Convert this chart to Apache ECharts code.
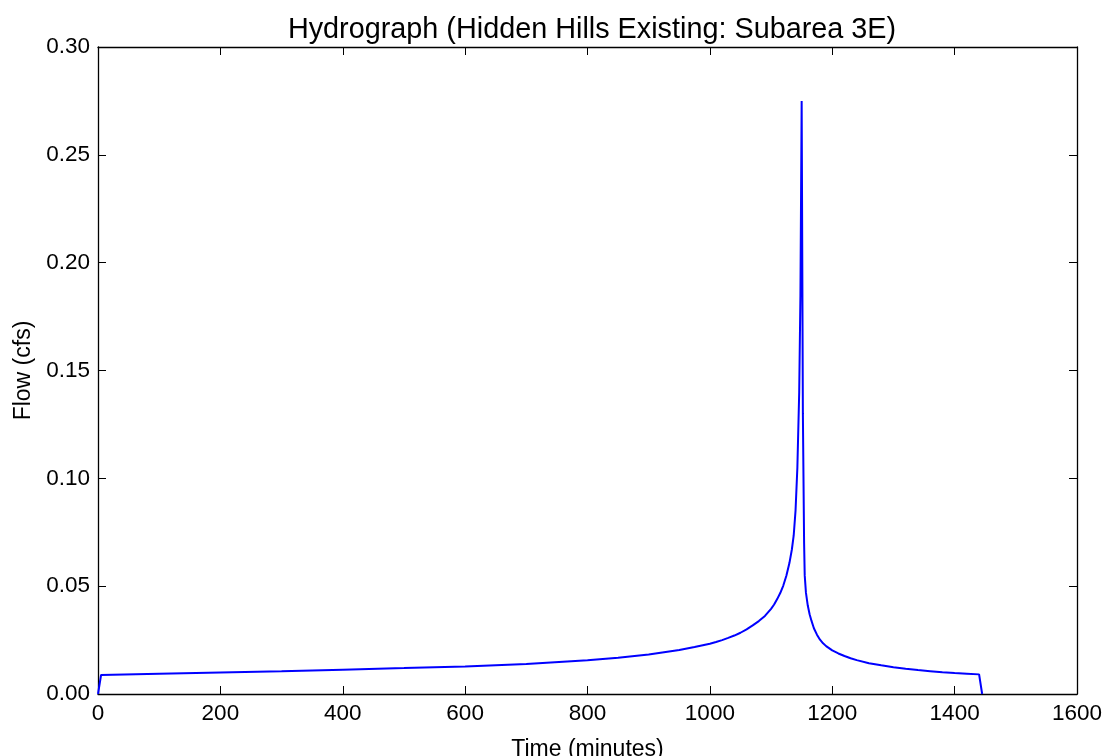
<!DOCTYPE html>
<html>
<head>
<meta charset="utf-8">
<script src="https://cdn.jsdelivr.net/npm/echarts@6/dist/echarts.min.js"></script>
<style>html,body{margin:0;padding:0;background:#fff;}#c{width:1106px;height:756px;}</style>
</head>
<body>
<div id="c"></div>
<script>
const chartTitle = "Hydrograph (Hidden Hills Existing: Subarea 3E)";
const xLabel = "Time (minutes)";
const yLabel = "Flow (cfs)";
const timeMinutes = [0, 5, 100, 200, 300, 400, 500, 600, 700, 800, 850, 900, 950, 975, 1000, 1010, 1020, 1030, 1040, 1050, 1060, 1070, 1080, 1090, 1100, 1105, 1110, 1115, 1120, 1125, 1130, 1134, 1137, 1140, 1143, 1146, 1148, 1150, 1152, 1154, 1155, 1157, 1160, 1163, 1166, 1170, 1175, 1180, 1185, 1190, 1200, 1210, 1220, 1230, 1240, 1260, 1280, 1300, 1320, 1340, 1360, 1380, 1400, 1420, 1440, 1445];
const flowCfs = [0, 0.0088, 0.0094, 0.0100, 0.0106, 0.0113, 0.0120, 0.0128, 0.0139, 0.0157, 0.0168, 0.0183, 0.0204, 0.0218, 0.0233, 0.0241, 0.0250, 0.0260, 0.0271, 0.0284, 0.0300, 0.0318, 0.0338, 0.0362, 0.0395, 0.0415, 0.0440, 0.0468, 0.0503, 0.0548, 0.0607, 0.0670, 0.0735, 0.0850, 0.1050, 0.1400, 0.1850, 0.2750, 0.1300, 0.0700, 0.0550, 0.0470, 0.0410, 0.0370, 0.0340, 0.0305, 0.0275, 0.0252, 0.0235, 0.0222, 0.0202, 0.0188, 0.0176, 0.0166, 0.0157, 0.0143, 0.0133, 0.0124, 0.0117, 0.0111, 0.0106, 0.0101, 0.0097, 0.0094, 0.0091, 0];
const xTicks = [0, 200, 400, 600, 800, 1000, 1200, 1400, 1600];
const yTicks = [0, 0.05, 0.10, 0.15, 0.20, 0.25, 0.30];

const FONT = "Liberation Sans, Arial, sans-serif";
const axisLineStyle = { color: "#000", width: 1.3 };
const tickStyle = { show: true, inside: true, length: 8, lineStyle: { color: "#000", width: 1 } };
const chart = echarts.init(document.getElementById("c"), null, { renderer: "canvas" });
const points = timeMinutes.map((t, i) => [t, flowCfs[i]]);

const xBase = { type: "value", min: xTicks[0], max: xTicks[xTicks.length - 1], interval: xTicks[1] - xTicks[0], splitLine: { show: false } };
const yBase = { type: "value", min: yTicks[0], max: yTicks[yTicks.length - 1], interval: 0.05, splitLine: { show: false } };

chart.setOption({
  backgroundColor: "#fff",
  animation: false,
  title: {
    text: chartTitle, left: 587, top: 11, textAlign: "center",
    textStyle: { fontFamily: FONT, fontSize: 28.8, fontWeight: "normal", color: "#000" }
  },
  grid: { left: 98, right: 29, top: 47, bottom: 62, containLabel: false, outerBoundsMode: "none" },
  xAxis: [
    Object.assign({}, xBase, {
      position: "bottom", name: xLabel, nameLocation: "middle", nameGap: 44,
      nameTextStyle: { fontFamily: FONT, fontSize: 23, color: "#000" },
      axisLine: { show: true, onZero: false, lineStyle: axisLineStyle },
      axisTick: tickStyle,
      axisLabel: { fontFamily: FONT, fontSize: 22.5, color: "#000", margin: 8, formatter: v => String(v) }
    }),
    Object.assign({}, xBase, {
      position: "top",
      axisLine: { show: true, onZero: false, lineStyle: axisLineStyle },
      axisTick: tickStyle,
      axisLabel: { show: false }
    })
  ],
  yAxis: [
    Object.assign({}, yBase, {
      position: "left", name: yLabel, nameLocation: "middle", nameGap: 63, nameRotate: 90,
      nameTextStyle: { fontFamily: FONT, fontSize: 23, color: "#000" },
      axisLine: { show: true, onZero: false, lineStyle: axisLineStyle },
      axisTick: tickStyle,
      axisLabel: { fontFamily: FONT, fontSize: 22.5, color: "#000", margin: 8, formatter: v => v.toFixed(2) }
    }),
    Object.assign({}, yBase, {
      position: "right",
      axisLine: { show: true, onZero: false, lineStyle: axisLineStyle },
      axisTick: tickStyle,
      axisLabel: { show: false }
    })
  ],
  series: [{
    type: "line", data: points, xAxisIndex: 0, yAxisIndex: 0,
    showSymbol: false, symbol: "none", smooth: false,
    lineStyle: { color: "#0000ff", width: 2 }
  }]
});
</script>
</body>
</html>
